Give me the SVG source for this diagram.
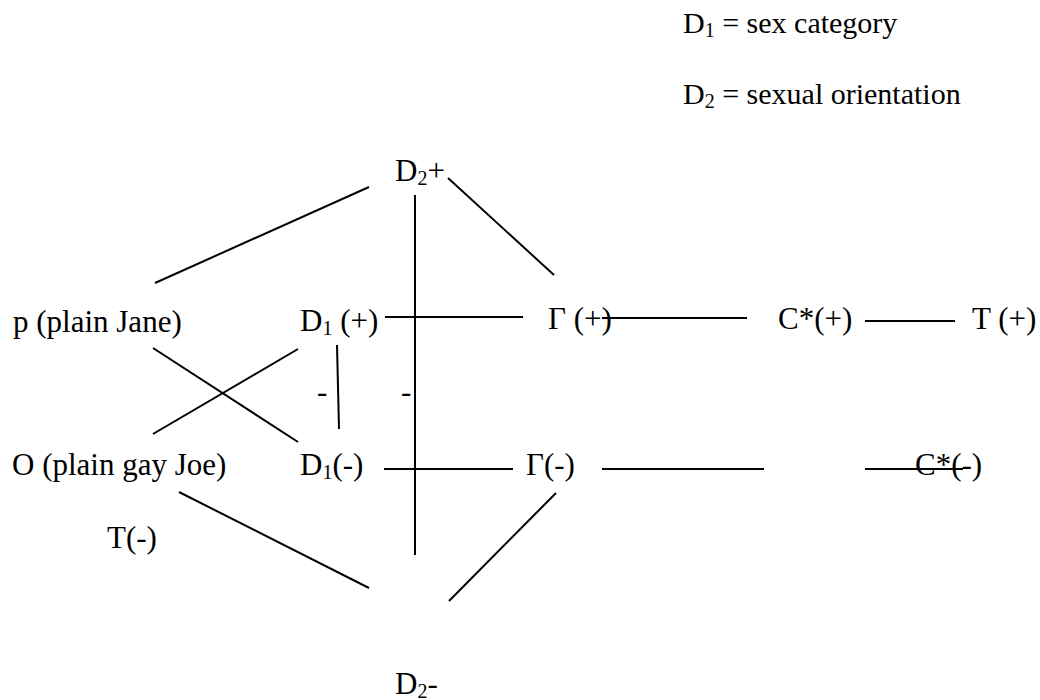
<svg xmlns="http://www.w3.org/2000/svg" width="1040" height="700" viewBox="0 0 1040 700">
<style>
text{font-family:"Liberation Serif","Times New Roman",serif;font-size:31px;fill:#000}
.legend text{font-size:30px}
.sub{font-size:20px}
line{stroke:#000;stroke-width:2}
</style>
<rect width="1040" height="700" fill="#fff"/>
<g id="legend" class="legend">
<text x="683" y="33">D<tspan class="sub" dy="4">1</tspan><tspan dy="-4"> = sex category</tspan></text>
<text x="683" y="104">D<tspan class="sub" dy="4">2</tspan><tspan dy="-4"> = sexual orientation</tspan></text>
</g>
<g id="connectors">
<line x1="369" y1="187" x2="155" y2="283"/>
<line x1="415" y1="195" x2="415" y2="555"/>
<line x1="448" y1="178" x2="554" y2="275"/>
<line x1="385" y1="317" x2="523" y2="317"/>
<line x1="602" y1="318" x2="747" y2="318"/>
<line x1="865" y1="321" x2="955" y2="321"/>
<line x1="153" y1="348" x2="298" y2="442"/>
<line x1="153" y1="434" x2="298" y2="349"/>
<line x1="337" y1="345" x2="339" y2="429"/>
<line x1="384" y1="469" x2="513" y2="469"/>
<line x1="602" y1="469" x2="764" y2="469"/>
<line x1="865" y1="469" x2="963" y2="469"/>
<line x1="179" y1="492" x2="369" y2="588"/>
<line x1="449" y1="601" x2="556" y2="493"/>
</g>
<g id="n-d2plus"><text x="395" y="181">D<tspan class="sub" dy="4">2</tspan><tspan dy="-4">+</tspan></text></g>
<g id="n-p"><text x="13" y="332">p (plain Jane)</text></g>
<g id="n-d1plus"><text x="300" y="331">D<tspan class="sub" dy="4">1</tspan><tspan dy="-4"> (+)</tspan></text></g>
<g id="n-gplus"><text x="548" y="329">Γ (+)</text></g>
<g id="n-cplus"><text x="778" y="329">C*(+)</text></g>
<g id="n-tplus"><text x="972" y="329">T (+)</text></g>
<g id="minus-labels"><text x="317" y="402">-</text><text x="401" y="402">-</text></g>
<g id="n-o"><text x="12" y="475">O (plain gay Joe)</text></g>
<g id="n-d1minus"><text x="300" y="475">D<tspan class="sub" dy="4">1</tspan><tspan dy="-4">(-)</tspan></text></g>
<g id="n-gminus"><text x="526" y="475">Γ(-)</text></g>
<g id="n-cminus"><text x="915" y="475">C*(-)</text></g>
<g id="n-tminus"><text x="107" y="548">T(-)</text></g>
<g id="n-d2minus"><text x="395" y="694">D<tspan class="sub" dy="4">2</tspan><tspan dy="-4">-</tspan></text></g>
</svg>
